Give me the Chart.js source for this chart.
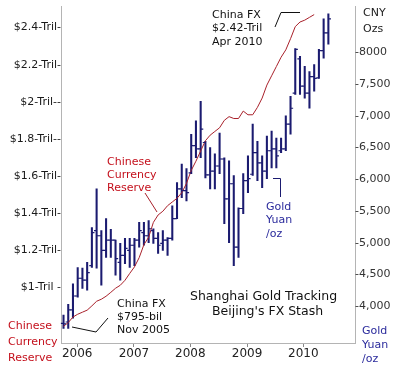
<!DOCTYPE html>
<html><head><meta charset="utf-8">
<script src="https://cdn.jsdelivr.net/npm/chart.js@4"></script>
<style>html,body{margin:0;padding:0;background:#fff}canvas{display:block}</style>
</head><body>
<canvas id="c" width="394" height="365"></canvas>
<script>
// Months (monthly bars) Nov 2005 .. Jul 2010
const months = ['Nov 2005','Dec 2005',
 'Jan 2006','Feb 2006','Mar 2006','Apr 2006','May 2006','Jun 2006','Jul 2006','Aug 2006','Sep 2006','Oct 2006','Nov 2006','Dec 2006',
 'Jan 2007','Feb 2007','Mar 2007','Apr 2007','May 2007','Jun 2007','Jul 2007','Aug 2007','Sep 2007','Oct 2007','Nov 2007','Dec 2007',
 'Jan 2008','Feb 2008','Mar 2008','Apr 2008','May 2008','Jun 2008','Jul 2008','Aug 2008','Sep 2008','Oct 2008','Nov 2008','Dec 2008',
 'Jan 2009','Feb 2009','Mar 2009','Apr 2009','May 2009','Jun 2009','Jul 2009','Aug 2009','Sep 2009','Oct 2009','Nov 2009','Dec 2009',
 'Jan 2010','Feb 2010','Mar 2010','Apr 2010','May 2010','Jun 2010','Jul 2010'];

// China FX reserves, US$ trillion (Nov 2005 .. Apr 2010)
const fxReserveTril = [0.79,0.81,0.84,0.855,0.866,0.877,0.90,0.925,0.936,0.952,
 0.973,0.995,1.011,1.038,1.075,1.11,1.16,1.23,1.27,1.35,
 1.39,1.41,1.44,1.46,1.48,1.51,1.56,1.63,1.68,1.735,
 1.79,1.82,1.84,1.86,1.90,1.92,1.91,1.91,1.95,1.93,
 1.93,1.97,2.02,2.09,2.14,2.19,2.24,2.28,2.34,2.405,
 2.43,2.44,2.455,2.47];

// Shanghai gold, CNY per oz (monthly OHLC)
const goldHigh = [3860,4030,4350,4610,4600,4690,5240,5850,5190,5380,5210,5040,4990,5070,5070,5070,5320,5320,5350,5220,5160,5190,5080,5580,5950,6240,6170,6710,6920,7230,6600,6500,6400,6730,6340,6290,6060,5550,6090,6370,6870,6600,6370,6680,6760,6650,6650,7000,7310,8060,7940,7780,7700,7810,8050,8530,8610];
const goldLow = [3650,3650,3810,4140,4280,4250,4610,4600,4330,4770,4770,4490,4410,4670,4610,4640,4930,4960,5000,4990,4830,4880,4800,5040,5380,5710,5660,6090,6340,6340,6020,5850,5850,6090,5300,5000,4640,4770,5460,5790,6060,5980,5870,6010,6180,6180,6420,6450,6710,7340,7340,7280,7120,7390,7590,7910,8130];
const goldOpen = [3730,3750,3940,4160,4440,4410,4640,5190,5110,4880,5040,5040,4690,4800,4880,4960,5040,5160,5110,5190,5070,4990,5040,5070,5380,5850,5820,6100,6530,6480,6580,6070,6130,6210,6320,5690,5930,4930,5540,5980,6080,6420,6260,6130,6450,6480,6450,6480,6870,7360,7900,7470,7360,7620,7600,8030,8310];
const goldClose = [3720,3940,4160,4440,4410,4530,5160,5110,4880,5040,5040,4750,4800,4910,4960,5040,5190,5110,5220,5070,4960,5040,5070,5380,5850,5820,5790,6530,6480,6790,6070,6130,6210,6320,5690,5930,4930,5540,5980,6010,6420,6260,6130,6450,6480,6370,6480,6870,7120,8050,7470,7360,7620,7590,8030,8310,8530];

// Axis ticks
const fxTickValues = [1,1.2,1.4,1.6,1.8,2,2.2,2.4];
const fxTickLabels = ['$1-Tril -','$1.2-Tril-','$1.4-Tril-','$1.6-Tril-','$1.8-Tril--','$2-Tril--','$2.2-Tril-','$2.4-Tril-'];
const goldTickValues = [4000,4500,5000,5500,6000,6500,7000,7500,8000];
const goldTickLabels = ['-4,000','-4,500','-5,000','-5,500','-6,000','-6,500','-7,000','-7,500','-8000'];
const yearLabels = ['2006','2007','2008','2009','2010'];
const yearTickPos = [2.9,14.9,26.8,38.8,50.7];

const NAVY = '#1b1b70';
const RED_LINE = '#a8202a';
const RED_TEXT = '#c4101c';
const BLUE_TEXT = '#2a2a9c';
const AXIS = '#b4b4b4';

Chart.defaults.font.family = "'DejaVu Sans', Verdana, sans-serif";

const ohlcTicks = {
  id: 'ohlcTicks',
  afterDatasetsDraw(chart) {
    const ctx = chart.ctx, xs = chart.scales.x, ys = chart.scales.yGold;
    ctx.save();
    ctx.strokeStyle = NAVY; ctx.lineWidth = 1.2;
    goldOpen.forEach((o, i) => {
      const x = xs.getPixelForValue(i);
      const yo = ys.getPixelForValue(o), yc = ys.getPixelForValue(goldClose[i]);
      ctx.beginPath();
      ctx.moveTo(x - 2.6, yo); ctx.lineTo(x, yo);
      ctx.moveTo(x, yc); ctx.lineTo(x + 2.6, yc);
      ctx.stroke();
    });
    ctx.restore();
  }
};

const notes = {
  id: 'notes',
  afterDraw(chart) {
    const ctx = chart.ctx;
    ctx.save();
    ctx.textBaseline = 'middle'; ctx.textAlign = 'left';
    const txt = (lines, x, y0, dy, color, size) => {
      ctx.fillStyle = color; ctx.font = size + "px 'DejaVu Sans'";
      lines.forEach((t, k) => ctx.fillText(t, x, y0 + k * dy));
    };
    const poly = (pts, color) => {
      ctx.strokeStyle = color; ctx.lineWidth = 1; ctx.beginPath();
      pts.forEach((p, k) => k ? ctx.lineTo(p[0], p[1]) : ctx.moveTo(p[0], p[1]));
      ctx.stroke();
    };
    txt(['China FX', '$2.42-Tril', 'Apr 2010'], 212, 15, 13.5, '#111', 11);
    poly([[275, 27], [281, 12.5], [300, 12.5]], '#111');
    txt(['Chinese', 'Currency', 'Reserve'], 107, 162, 13, RED_TEXT, 11);
    poly([[145, 193], [157, 212]], RED_LINE);
    txt(['China FX', '$795-bil', 'Nov 2005'], 117, 304, 13, '#111', 11);
    poly([[72, 327], [96, 332], [108, 318]], '#111');
    txt(['Gold', 'Yuan', '/oz'], 266, 207, 13.5, BLUE_TEXT, 11);
    poly([[273, 178.5], [280.5, 178.5], [280.5, 197]], NAVY);
    txt(['Shanghai Gold Tracking'], 190, 297, 15, '#111', 12.5);
    txt(["Beijing's FX Stash"], 212, 312, 15, '#111', 12.5);
    txt(['CNY', 'Ozs'], 363, 13, 16, '#222', 11);
    txt(['Gold', 'Yuan', '/oz'], 362, 331, 14, BLUE_TEXT, 11);
    txt(['Chinese', 'Currency', 'Reserve'], 8, 326, 16, RED_TEXT, 11);
    ctx.restore();
  }
};

new Chart(document.getElementById('c'), {
  data: {
    datasets: [
      {
        type: 'line', label: 'Chinese Currency Reserve', yAxisID: 'yFx',
        data: fxReserveTril.map((v, i) => ({x: i, y: v})),
        borderColor: RED_LINE, borderWidth: 1, pointRadius: 0, tension: 0, fill: false
      },
      {
        type: 'bar', label: 'Gold Yuan/oz', yAxisID: 'yGold',
        data: goldHigh.map((h, i) => ({x: i, y: [goldLow[i], h]})),
        backgroundColor: NAVY, borderWidth: 0, barThickness: 1.4
      }
    ]
  },
  options: {
    responsive: false, animation: false, devicePixelRatio: 1,
    layout: {padding: {top: 5, left: 0, right: 0, bottom: 0}},
    plugins: {legend: {display: false}, tooltip: {enabled: false}},
    scales: {
      x: {
        type: 'linear', min: -0.53, max: 61.63, offset: false,
        afterBuildTicks: s => { s.ticks = yearTickPos.map(v => ({value: v})); },
        afterFit: s => { s.height = 22; },
        ticks: {callback: (v, i) => yearLabels[i], autoSkip: false, maxRotation: 0, padding: 0,
                color: '#222', font: {size: 12}},
        grid: {display: true, offset: false, drawOnChartArea: false, drawTicks: true, tickLength: 4, color: '#888'},
        border: {display: true, color: AXIS}
      },
      yFx: {
        type: 'linear', position: 'left', min: 0.70, max: 2.513,
        afterBuildTicks: s => { s.ticks = fxTickValues.map(v => ({value: v})); },
        afterFit: s => { s.width = 61; },
        ticks: {callback: (v, i) => fxTickLabels[i], padding: 0, color: '#1a1a1a', font: {size: 11}},
        grid: {display: false, drawTicks: false},
        border: {display: true, color: AXIS}
      },
      yGold: {
        type: 'linear', position: 'right', min: 3419, max: 8723,
        afterBuildTicks: s => { s.ticks = goldTickValues.map(v => ({value: v})); },
        afterFit: s => { s.width = 39; },
        ticks: {callback: (v, i) => goldTickLabels[i], padding: 0, color: '#333', font: {size: 11}},
        grid: {display: false, drawTicks: false},
        border: {display: true, color: AXIS}
      }
    }
  },
  plugins: [ohlcTicks, notes]
});
</script>
</body></html>
